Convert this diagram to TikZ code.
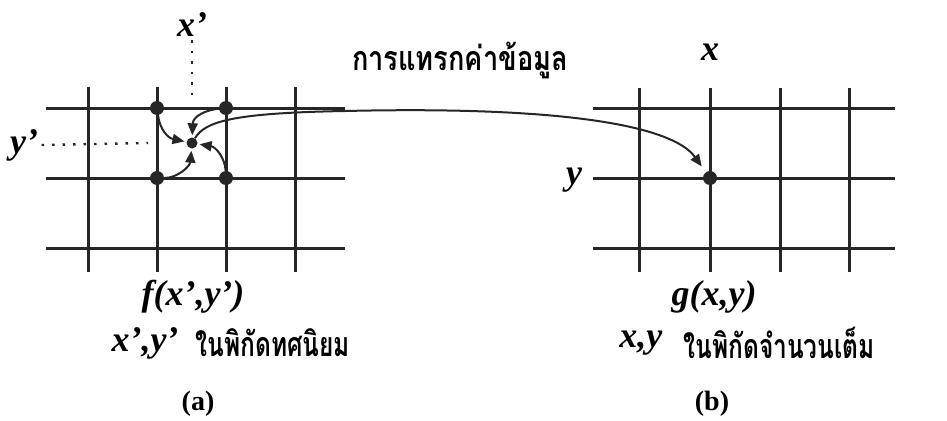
\documentclass[tikz,border=0pt]{standalone}
\usepackage{fontspec}
\usepackage{graphicx}
\setmainfont{Liberation Serif}
\newfontfamily\thaifont[Script=Thai]{Loma}
\usetikzlibrary{arrows.meta}

\newcommand{\thaitext}[1]{\scalebox{0.72}[1]{#1}}

\tikzset{
  gridline/.style={line width=3pt, black!85},
  pin/.style={circle, fill=black!85, inner sep=0pt, minimum size=14pt},
  hint/.style={line width=2.4pt, dash pattern=on 2.5pt off 8pt, black!85},
  feed/.style={line width=2pt, black!85, -{Triangle[length=12pt,width=10pt]}, shorten >=2pt},
  varlabel/.style={font=\fontsize{36}{36}\selectfont\bfseries\itshape},
  thailabel/.style={font=\fontsize{34}{36}\selectfont\thaifont\bfseries},
  caplabel/.style={font=\fontsize{28}{30}\selectfont\bfseries}
}

\begin{document}
\begin{tikzpicture}[x=1pt, y=-1pt]
  \useasboundingbox (0,0) rectangle (947,420);

  % === Grid (a): real-valued positions ===
  \foreach \gx in {88,157,226,295}
    \draw[gridline] (\gx,87) -- (\gx,272);
  \foreach \gy in {108,178,248}
    \draw[gridline] (46,\gy) -- (345,\gy);

  % === Grid (b): integer positions ===
  \foreach \gx in {639,710,780,849}
    \draw[gridline] (\gx,88) -- (\gx,272);
  \foreach \gy in {108,178,248}
    \draw[gridline] (593,\gy) -- (895,\gy);

  % === Neighbour pixels and the sample point ===
  \node[pin] (a11) at (157,108) {};
  \node[pin] (a12) at (226,108) {};
  \node[pin] (a21) at (157,178) {};
  \node[pin] (a22) at (226,178) {};
  \node[pin, minimum size=11pt] (q) at (192,143) {};
  \node[pin] (g) at (710,178) {};

  % === Position labels and dotted guides ===
  \node[varlabel] (xp) at (192,25) {x'};
  \node[varlabel] (yp) at (24,145) {y'};
  \coordinate (xfoot) at (192,100);
  \coordinate (yfoot) at (148,143);
  \draw[hint] (xp.south) -- (xfoot);
  \draw[hint] (yp.east) -- (yfoot);
  \node[varlabel] (xg) at (710,52) {x};
  \node[varlabel] (yg) at (574,180) {y};

  % === Four neighbours feed the sample point ===
  \draw[feed] (a11) .. controls (160,130) and (168,138) .. (q);
  \draw[feed] (a12) .. controls (206,110) and (193,116) .. (q);
  \draw[feed] (a22) .. controls (225,158) and (216,147) .. (q);
  \draw[feed] (a21) .. controls (178,178) and (190,166) .. (q);

  % === Interpolated value carried to the integer grid ===
  \coordinate (bend) at (345,111);
  \draw[feed, shorten >=7pt] (q) .. controls (205,122) and (230,113) .. (bend)
    .. controls (560,106) and (672,125) .. (g);
  \node[thailabel] (interp) at (460,60) {\scalebox{0.8}[1]{การแทรกค่าข้อมูล}};

  % === Captions ===
  \node[varlabel] (fval) at (193,297) {f(x',y')};
  \node[varlabel, anchor=east] (fxy) at (182,343) {x',y'};
  \node[thailabel, anchor=west] (fdesc) at (192,343) {\thaitext{ในพิกัดทศนิยม}};
  \node[caplabel] (capa) at (198,404) {(a)};

  \node[varlabel] (gval) at (714,297) {g(x,y)};
  \node[varlabel, anchor=east] (gxy) at (666,343) {x,y};
  \node[thailabel, anchor=west] (gdesc) at (680,343) {\thaitext{ในพิกัดจำนวนเต็ม}};
  \node[caplabel] (capb) at (712,404) {(b)};

\end{tikzpicture}
\end{document}
